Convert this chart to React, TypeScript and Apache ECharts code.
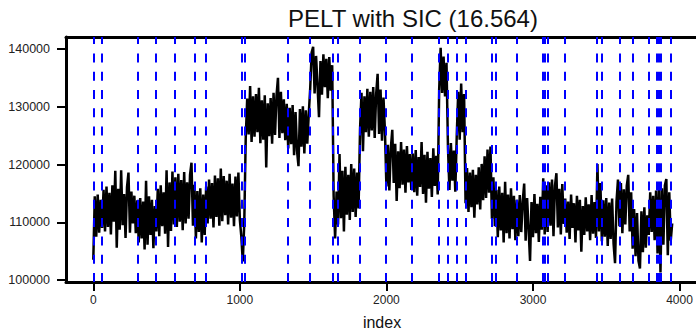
import React, { useEffect, useRef } from "react";
import * as echarts from "echarts";

// Title and axis texts
const titleText = "PELT with SIC (16.564)";
const xName = "index";

// Tick values
const xTicks = [0, 1000, 2000, 3000, 4000];
const yTicks = [100000, 110000, 120000, 130000, 140000];

// Detected changepoint locations (index)
const changepoints = [
  2, 61, 306, 426, 559, 695, 764, 1010, 1035, 1325, 1478, 1637, 1665, 1819,
  1995, 2176, 2359, 2418, 2480, 2538, 2718, 2748, 2890, 3066, 3083, 3100,
  3220, 3434, 3466, 3589, 3678, 3787, 3842, 3858, 3874, 3942,
];

// Series readings taken every STEP indices
const STEP = 10;
const readings = [
  // 0 - 60
  103500, 114500, 107500, 114800, 108200, 113900, 109000,
  // 70 - 300
  115600, 108400, 116200, 109200, 115100, 107900, 116400, 110100, 118900, 105600,
  115800, 108700, 119000, 109500, 114900, 107300, 116100, 118600, 108200, 115300,
  109800, 114600, 108100, 113800,
  // 310 - 420
  106500, 114200, 107200, 113600, 105300, 117200, 106100, 114500, 107800, 113900,
  105500, 112800,
  // 430 - 550
  108400, 115800, 107600, 116400, 109300, 115200, 108000, 119000, 105700, 116900,
  108500, 118800, 109600,
  // 560 - 690
  117800, 109200, 118400, 110100, 117300, 108600, 118700, 109800, 116900, 110600,
  118200, 120300, 109400, 116500,
  // 700 - 760
  107200, 115400, 108300, 115900, 106500, 114800, 107800,
  // 770 - 1000
  116200, 109800, 117400, 110600, 116800, 109100, 118100, 110900, 117600, 109400,
  119300, 110200, 118000, 111200, 117200, 109600, 118400, 110800, 116700, 109300,
  117900, 111000, 118600, 110400,
  // 1010 - 1030
  107500, 103200, 109800,
  // 1040 - 1320
  124500, 131400, 125200, 133600, 123900, 131800, 124800, 132200, 125600, 133300,
  123700, 131100, 124300, 132000, 119500, 130600, 124900, 131500, 123600, 132400,
  125100, 131900, 135000, 124600, 132600, 125400, 131300, 124200, 130500,
  // 1330 - 1470
  122800, 129800, 123500, 130300, 121600, 129100, 122400, 119700, 129600, 123100,
  130100, 121900, 129400, 123600, 128700,
  // 1480 - 1630
  133200, 139400, 140400, 132300, 138800, 133600, 128200, 137900, 132100, 139100,
  133400, 138300, 131500, 138600, 132800, 137200,
  // 1640 - 1660
  114500, 107200, 115300,
  // 1670 - 1810
  109600, 121800, 110700, 118900, 108400, 119600, 111300, 118200, 110400, 120100,
  111800, 119300, 110900, 118600, 112400,
  // 1820 - 1990
  126100, 132400, 122300, 131800, 125600, 133100, 124800, 132600, 125900, 133400,
  124600, 132200, 135700, 125300, 133000, 124100, 131600, 125800,
  // 2000 - 2170
  116200, 123400, 115500, 122800, 126000, 116800, 123600, 113700, 122300, 115900,
  123900, 116500, 122600, 115100, 123200, 116900, 121800, 115600,
  // 2180 - 2350
  121900, 115200, 122500, 114600, 121300, 116100, 123900, 114900, 121700, 113400,
  122200, 115800, 121100, 114400, 122800, 116300, 121500, 114800,
  // 2360 - 2410
  133000, 140200, 132400, 138700, 131800, 137600,
  // 2420 - 2470
  122900, 115600, 123700, 117200, 122400, 115300,
  // 2480 - 2530
  125100, 132600, 124300, 134000, 125600, 132200,
  // 2540 - 2710
  113300, 119400, 111800, 118600, 112600, 119100, 110800, 118200, 113100, 119500,
  112200, 120100, 113800, 121400, 114200, 122600, 115100, 123100,
  // 2720 - 2740
  110600, 117800, 109300,
  // 2750 - 2880
  115600, 107400, 116200, 108600, 115100, 106500, 117000, 108100, 114800, 107200,
  115900, 108800, 114600, 106900,
  // 2890 - 3060
  113900, 107600, 114700, 108300, 113600, 116700, 106800, 114200, 108900, 103300,
  113500, 107400, 114900, 108100, 113200, 106600, 114400, 108700,
  // 3070 - 3090
  117600, 107900, 116400,
  // 3100 - 3210
  108300, 116900, 109400, 117400, 107600, 116300, 118500, 109100, 115800, 107900,
  116600, 109700,
  // 3220 - 3430
  114100, 108200, 113600, 107100, 114800, 109000, 113300, 106500, 114600, 108600,
  113900, 104900, 112800, 107800, 114300, 108400, 113100, 106900, 114700, 108000,
  113500, 107300,
  // 3440 - 3460
  120100, 108400, 116800,
  // 3470 - 3580
  106700, 113800, 107500, 114200, 105900, 113400, 107100, 114100, 106300, 102900,
  113600, 117400,
  // 3590 - 3670
  109300, 116800, 108100, 115700, 109600, 116300, 118200, 108400, 115200,
  // 3680 - 3780
  105400, 112300, 104100, 111600, 103300, 102000, 111900, 104800, 112600, 105600,
  111200,
  // 3790 - 3840
  107800, 115200, 108300, 114600, 106900, 115500,
  // 3850 - 3870
  104600, 116300, 101300,
  // 3880 - 3940
  115900, 106100, 116400, 117500, 104300, 115200, 106800,
  // 3950
  109800,
];

const FONT = "'Liberation Sans', Arial, sans-serif";
const X_MIN = -186.3;
const X_MAX = 4112.4;

export default function App() {
  const ref = useRef<HTMLDivElement>(null);

  useEffect(() => {
    if (!ref.current) return;
    const chart = echarts.init(ref.current, null, { renderer: "svg" });
    const data = readings.map((v, i) => [i * STEP, v]);
    const frameLine = { show: true, onZero: false, lineStyle: { color: "#000", width: 3 } };

    chart.setOption({
      animation: false,
      backgroundColor: "#ffffff",
      grid: {
        left: 66,
        right: 0,
        top: 37,
        bottom: 49,
        show: false,
      },
      xAxis: [
        {
          type: "value",
          position: "bottom",
          min: X_MIN,
          max: X_MAX,
          axisLine: frameLine,
          splitLine: { show: false },
          axisTick: {
            show: true,
            length: 9,
            customValues: xTicks,
            lineStyle: { color: "#000", width: 2 },
          },
          axisLabel: {
            customValues: xTicks,
            margin: 12,
            fontSize: 12,
            color: "#222",
            fontFamily: FONT,
            formatter: (v: number) => String(v),
          },
        },
        {
          type: "value",
          position: "top",
          min: X_MIN,
          max: X_MAX,
          axisLine: frameLine,
          splitLine: { show: false },
          axisTick: { show: false },
          axisLabel: { show: false },
        },
      ],
      yAxis: {
        type: "value",
        min: 99654,
        max: 142078,
        axisLine: frameLine,
        splitLine: { show: false },
        axisTick: {
          show: true,
          length: 9,
          customValues: yTicks,
          lineStyle: { color: "#000", width: 2 },
        },
        axisLabel: {
          customValues: yTicks,
          margin: 16,
          fontSize: 12.5,
          color: "#222",
          fontFamily: FONT,
          formatter: (v: number) => String(v),
        },
      },
      graphic: [
        {
          type: "text",
          x: 413,
          y: 18,
          style: {
            text: titleText,
            fontSize: 24,
            fontFamily: FONT,
            fill: "#111",
            align: "center",
            verticalAlign: "middle",
          },
        },
        {
          type: "text",
          x: 382,
          y: 322,
          style: {
            text: xName,
            fontSize: 16,
            fontFamily: FONT,
            fill: "#111",
            align: "center",
            verticalAlign: "middle",
          },
        },
      ],
      series: [
        {
          type: "line",
          xAxisIndex: 0,
          data,
          symbol: "none",
          showSymbol: false,
          lineStyle: { color: "#000", width: 2.5, join: "miter" },
          z: 2,
          markLine: {
            silent: true,
            symbol: ["none", "none"],
            label: { show: false },
            lineStyle: { color: "#0000ff", width: 2, type: [9, 9.3] },
            data: changepoints.map((c) => ({ xAxis: c })),
          },
        },
      ],
    });

    return () => chart.dispose();
  }, []);

  return (
    <div
      ref={ref}
      style={{ position: "fixed", left: 0, top: 0, width: 696, height: 331 }}
    />
  );
}
